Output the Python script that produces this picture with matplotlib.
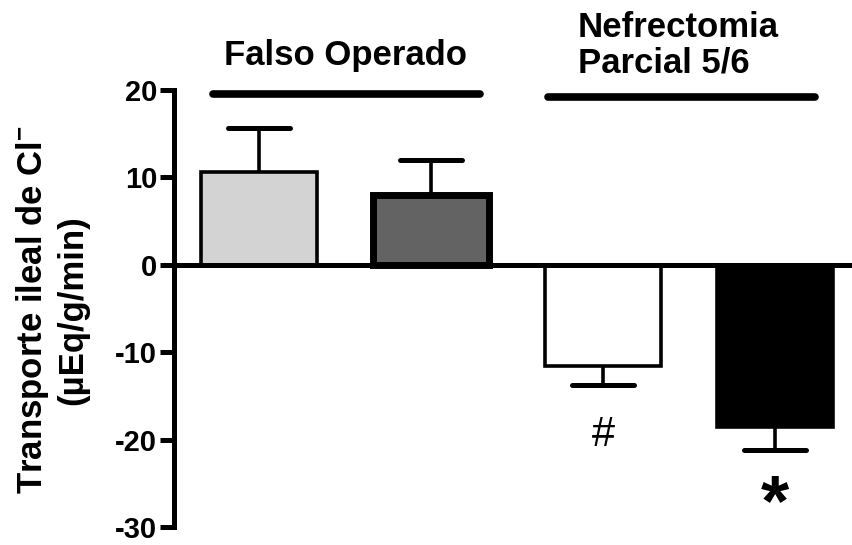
import matplotlib
matplotlib.use("Agg")
import matplotlib.pyplot as plt
import numpy as np

# Ileal Cl- transport per group (mean and SEM)
groups = ["FO control", "FO tratado", "NP5/6 control", "NP5/6 tratado"]
means = [10.6, 8.0, -11.6, -18.6]
sems = [5.0, 4.0, 2.1, 2.6]
face_colors = ["#d3d3d3", "#636363", "#ffffff", "#000000"]
edge_widths = [2.6, 5.0, 2.6, 2.6]

y_ticks = [20, 10, 0, -10, -20, -30]
group_titles = ["Falso Operado", "Nefrectomia\nParcial 5/6"]
marks = ["#", r"$\mathbf{*}$"]

plt.rcParams["font.family"] = ["Liberation Sans", "DejaVu Sans"]
plt.rcParams["mathtext.fontset"] = "custom"
plt.rcParams["mathtext.rm"] = "Liberation Sans:bold"
plt.rcParams["mathtext.bf"] = "Liberation Sans:bold"

fig = plt.figure(figsize=(8.52, 5.45), dpi=100)
ax = fig.add_axes([174 / 852, 18 / 545, 1 - 174 / 852, (527 - 90) / 545])

x = np.arange(len(groups))
width = 0.675
cap_half = 0.18

for xi, m, s, fc, lw in zip(x, means, sems, face_colors, edge_widths):
    # one-sided error bar pointing away from zero, hidden inside the bar
    tip = m + s if m >= 0 else m - s
    ax.plot([xi, xi], [0, tip], color="black", linewidth=2.6, zorder=1)
    ax.plot([xi - cap_half, xi + cap_half], [tip, tip], color="black",
            linewidth=3.6, solid_capstyle="round", zorder=1)
    ax.bar(xi, m, width=width, color=fc, edgecolor="black", linewidth=lw,
           zorder=2)

ax.axhline(0, color="black", linewidth=3.6, zorder=3)

ax.set_xlim(-0.494, 3.448)
ax.set_ylim(-30, 20)
ax.set_yticks(y_ticks)
ax.set_yticklabels([str(t) for t in y_ticks], fontsize=21, fontweight="bold")
ax.tick_params(axis="y", direction="out", length=10, width=3.6, pad=2)
ax.set_xticks([])
for side in ["top", "right", "bottom"]:
    ax.spines[side].set_visible(False)
ax.spines["left"].set_linewidth(3.6)
ax.spines["left"].set_capstyle("projecting")

# group brackets
ax.plot([-0.267, 1.285], [19.5, 19.5], color="black", linewidth=5.5,
        solid_capstyle="round", clip_on=False)
ax.plot([1.68, 3.23], [19.2, 19.2], color="black", linewidth=5.5,
        solid_capstyle="round", clip_on=False)
fig.text(345 / 852, 1 - 55 / 545, group_titles[0], fontsize=25,
         fontweight="bold", ha="center", va="center")
fig.text(578 / 852, 1 - 45 / 545, group_titles[1], fontsize=25,
         fontweight="bold", ha="left", va="center", linespacing=1.1)

# significance marks
ax.text(2, -19.5, marks[0], fontsize=30, ha="center", va="center")
ax.text(3, -27.6, marks[1], fontsize=52, ha="center", va="center")

fig.text(52 / 852, 1 - 310 / 545,
         "Transporte ileal de Cl$^{-}$\n(µEq/g/min)",
         rotation=90, fontsize=25, fontweight="bold", ha="center",
         va="center", multialignment="center", linespacing=1.2)

fig.savefig("out.png", dpi=100)
